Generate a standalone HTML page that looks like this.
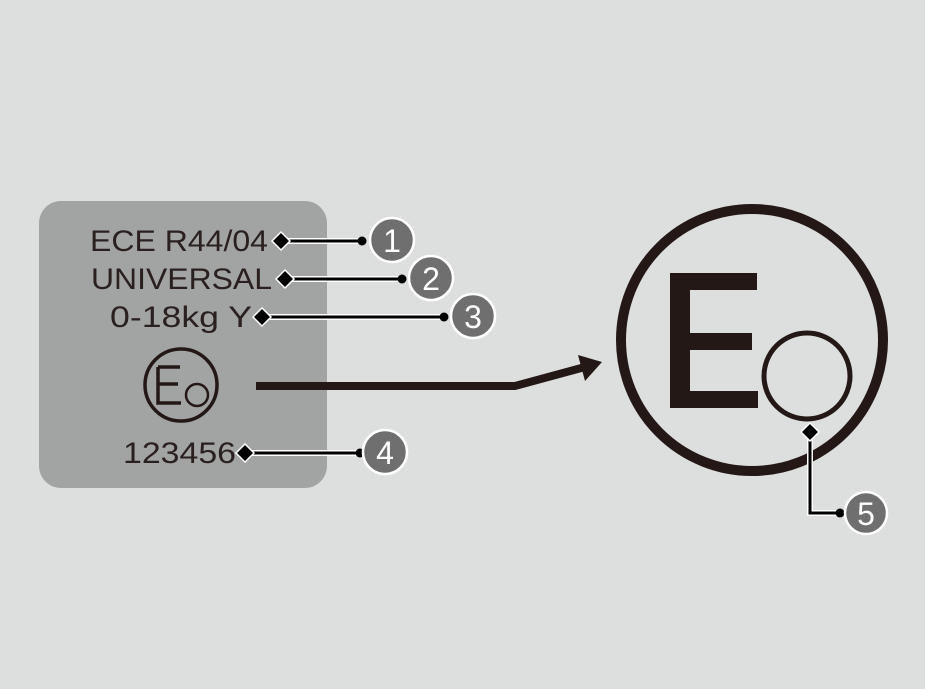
<!DOCTYPE html>
<html><head><meta charset="utf-8"><style>
html,body{margin:0;padding:0;background:#dddfde;}
svg{display:block;}
.t{font-family:"Liberation Sans",sans-serif;fill:#2a2020;font-size:30px;}
.n{font-family:"Liberation Sans",sans-serif;fill:#fff;font-size:32px;text-anchor:middle;}
</style></head><body>
<svg width="925" height="689" viewBox="0 0 925 689" xmlns="http://www.w3.org/2000/svg">
<rect width="925" height="689" fill="#dddfde"/>
<rect x="39" y="201" width="288" height="287" rx="22" fill="#a2a4a3"/>
<text class="t" x="90" y="251" textLength="178" lengthAdjust="spacingAndGlyphs">ECE R44/04</text>
<text class="t" x="91" y="289" textLength="181" lengthAdjust="spacingAndGlyphs">UNIVERSAL</text>
<text class="t" x="110" y="327" textLength="142" lengthAdjust="spacingAndGlyphs">0-18kg Y</text>
<text class="t" x="123" y="463" textLength="113" lengthAdjust="spacingAndGlyphs">123456</text>
<!-- small mark -->
<circle cx="181" cy="385" r="36" fill="none" stroke="#231816" stroke-width="3.5"/>
<path d="M158 367 H180 M158 367 V403 H181 M158 384 H178" fill="none" stroke="#231816" stroke-width="3.5"/>
<circle cx="197" cy="395" r="11" fill="none" stroke="#231816" stroke-width="2.5"/>
<!-- arrow -->
<polyline points="256,386 515,386 585,367" fill="none" stroke="#231816" stroke-width="8"/>
<polygon points="602,362 578,355 585,381" fill="#231816"/>
<!-- big mark -->
<circle cx="752" cy="340" r="131" fill="none" stroke="#231816" stroke-width="10"/>
<path d="M670 273 H757 V290 H690 V333 H752 V350 H690 V391 H758 V408 H670 Z" fill="#231816"/>
<circle cx="807" cy="376" r="43" fill="none" stroke="#231816" stroke-width="5"/>
<!-- callouts -->
<g stroke="#fff" stroke-width="6" fill="none">
<path d="M281 241 H362"/><path d="M285 279 H402"/><path d="M262 317 H444"/><path d="M245 453 H360"/>
<path d="M810 432 V513 H840"/>
</g>
<g stroke="#000" stroke-width="3" fill="none">
<path d="M281 241 H362"/><path d="M285 279 H402"/><path d="M262 317 H444"/><path d="M245 453 H360"/>
<path d="M810 432 V513 H840"/>
</g>
<g fill="#000" stroke="#fff" stroke-width="1.5">
<polygon points="272,241 281,232 290,241 281,250"/>
<polygon points="276,279 285,270 294,279 285,288"/>
<polygon points="253,317 262,308 271,317 262,326"/>
<polygon points="236,453 245,444 254,453 245,462"/>
<polygon points="810,423 819,432 810,441 801,432"/>
</g>
<g fill="#000"><circle cx="362" cy="241" r="4.5"/><circle cx="402" cy="279" r="4.5"/><circle cx="444" cy="317" r="4.5"/><circle cx="360" cy="453" r="4.5"/><circle cx="840" cy="513" r="4.5"/></g>
<g fill="#6f6f6f" stroke="#fff" stroke-width="2.5">
<circle cx="392" cy="240" r="22"/><circle cx="431" cy="278" r="22"/><circle cx="473" cy="316" r="22"/><circle cx="385" cy="452" r="22"/><circle cx="866" cy="513" r="21"/>
</g>
<text class="n" x="392" y="252">1</text>
<text class="n" x="431" y="290">2</text>
<text class="n" x="473" y="328">3</text>
<text class="n" x="385" y="464">4</text>
<text class="n" x="866" y="525">5</text>
</svg>
</body></html>
